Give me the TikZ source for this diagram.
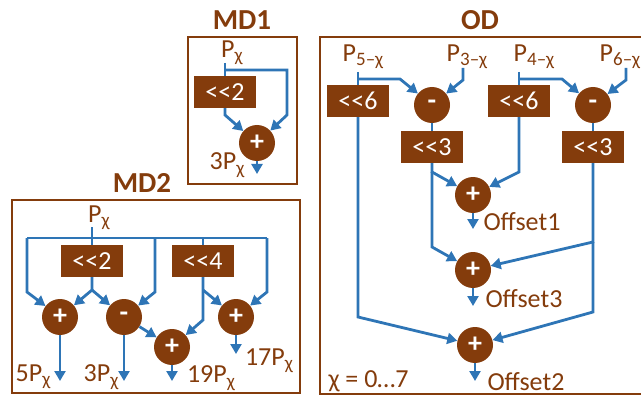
\documentclass[tikz,border=0pt]{standalone}
\usepackage{fontspec}
\setmainfont{Carlito}
\usepackage{tikz}
\usetikzlibrary{arrows.meta}
\definecolor{mdbrown}{RGB}{132,60,12}
\definecolor{wireblue}{RGB}{46,117,182}
\newcommand{\lowsub}[1]{\raisebox{-0.35ex}{\fontsize{19}{19}\selectfont #1}}

\begin{document}
\begin{tikzpicture}[x=1pt, y=-1pt,
    every node/.style={font=\fontsize{26}{28}\selectfont, text=mdbrown},
    opcircle/.style={circle, fill=mdbrown, text=white, minimum size=36, inner sep=0pt, font=\fontsize{28}{28}\selectfont\bfseries},
    shiftbox/.style={rectangle, fill=mdbrown, text=white, minimum width=62, minimum height=32, inner sep=0pt},
    blocktitle/.style={font=\fontsize{29}{30}\selectfont\bfseries},
    frame/.style={draw=mdbrown, line width=2.5},
    wire/.style={draw=wireblue, line width=2.8},
    flow/.style={wire, -{Triangle[length=10,width=11]}}]
  \clip (0,0) rectangle (641,396);

  % MD1
  \node[blocktitle] (md1) at (242,20) {MD1};
  \draw[frame] (188,37) rectangle (297,184);
  \node (px1) at (232,53) {P\lowsub{χ}};
  \node[shiftbox] (sl1) at (225,92) {<{}<2};
  \node[opcircle] (add1) at (257,143) {+};
  \node (out1) at (227,165) {3P\lowsub{χ}};
  \coordinate (p1) at (225,63);
  \coordinate (j1) at (225,70);
  \draw[wire] (p1) -- (sl1.north);
  \draw[flow] (sl1.south) -- (225,115) -- (add1);
  \draw[flow] (j1) -| (287,115) -- (add1);
  \draw[flow] (add1.south) -- (257,174);

  % MD2
  \node[blocktitle] (md2) at (142,183) {MD2};
  \draw[frame] (12,200) rectangle (300,393);
  \node (px2) at (99,218) {P\lowsub{χ}};
  \node[shiftbox] (sl2) at (92,261) {<{}<2};
  \node[shiftbox] (sl4) at (203,261) {<{}<4};
  \node[opcircle] (a21) at (60,317) {+};
  \node[opcircle] (s22) at (124,317) {-};
  \node[opcircle] (a23) at (172,347) {+};
  \node[opcircle] (a24) at (236,317) {+};
  \node (o21) at (33,377) {5P\lowsub{χ}};
  \node (o22) at (101,377) {3P\lowsub{χ}};
  \node (o23) at (211,378) {19P\lowsub{χ}};
  \node (o24) at (269,361) {17P\lowsub{χ}};
  \coordinate (p2) at (92,227);
  \coordinate (b2) at (92,290);
  \draw[wire] (p2) -- (sl2.north);
  \draw[wire] (27,238) -- (267,238);
  \draw[flow] (27,238) -- (27,292) -- (a21);
  \draw[flow] (sl2.south) -- (b2) -- (a21);
  \draw[flow] (b2) -- (s22);
  \draw[flow] (155,238) -- (155,292) -- (s22);
  \draw[wire] (203,238) -- (sl4.north);
  \draw[flow] (sl4.south) -- (203,320) -- (a23);
  \draw[flow] (203,290) -- (a24);
  \draw[flow] (267,238) -- (267,292) -- (a24);
  \draw[flow] (s22) -- (a23);
  \draw[flow] (a21.south) -- (60,381);
  \draw[flow] (s22.south) -- (124,381);
  \draw[flow] (a23.south) -- (172,381);
  \draw[flow] (a24.south) -- (236,354);

  % OD
  \node[blocktitle] (od) at (480,20) {OD};
  \draw[frame] (641,37) -- (320,37) -- (320,394) -- (641,394);
  \node (p5) at (363,57) {P\lowsub{5–χ}};
  \node (p3) at (467,57) {P\lowsub{3–χ}};
  \node (p4) at (534,57) {P\lowsub{4–χ}};
  \node (p6) at (620,57) {P\lowsub{6–χ}};
  \node[shiftbox] (s61) at (358,101) {<{}<6};
  \node[shiftbox] (s62) at (519,101) {<{}<6};
  \node[opcircle] (m1) at (432,105) {-};
  \node[opcircle] (m2) at (593,105) {-};
  \node[shiftbox] (s31) at (432,147) {<{}<3};
  \node[shiftbox] (s32) at (593,147) {<{}<3};
  \node[opcircle] (a1) at (473,195) {+};
  \node[opcircle] (a3) at (473,270) {+};
  \node[opcircle] (a2) at (475,345) {+};
  \node[anchor=west] (off1) at (480,222) {Offset1};
  \node[anchor=west] (off3) at (482,299) {Offset3};
  \node[anchor=west] (off2) at (484,382) {Offset2};
  \node[anchor=west] (range) at (325,381) {χ = 0…7};
  \draw[wire] (358,72) -- (s61.north);
  \draw[flow] (358,79) -- (400,79) -- (m1);
  \draw[flow] (463,68) -- (463,80) -- (m1);
  \draw[flow] (s61.south) -- (358,317) -- (a2);
  \draw[wire] (m1) -- (s31);
  \draw[flow] (s31.south) -- (432,172) -- (a1);
  \draw[flow] (432,172) -- (432,247) -- (a3);
  \draw[wire] (519,72) -- (s62.north);
  \draw[flow] (519,79) -- (562,79) -- (m2);
  \draw[flow] (626,68) -- (626,80) -- (m2);
  \draw[flow] (s62.south) -- (519,172) -- (a1);
  \draw[wire] (m2) -- (s32);
  \draw[flow] (s32.south) -- (593,242) -- (a3);
  \draw[flow] (593,242) -- (593,312) -- (a2);
  \draw[flow] (a1.south) -- (473,229);
  \draw[flow] (a3.south) -- (473,306);
  \draw[flow] (a2.south) -- (475,381);
\end{tikzpicture}
\end{document}
